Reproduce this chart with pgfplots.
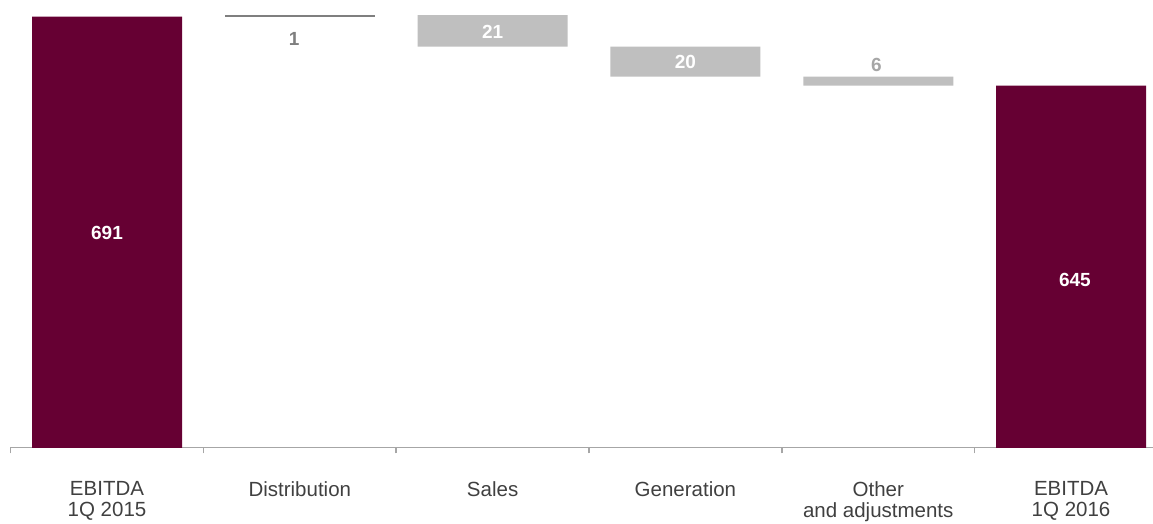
\documentclass[border=0pt]{standalone}
\usepackage{pgfplots}
\pgfplotsset{compat=1.18}
\usepackage{fontspec}
\setmainfont{Liberation Sans}
\definecolor{maroon}{HTML}{660033}
\definecolor{barGray}{HTML}{BFBFBF}
\definecolor{lineGray}{HTML}{7F7F7F}
\definecolor{axGray}{HTML}{A6A6A6}
\definecolor{lblGray}{HTML}{404040}
\definecolor{sixGray}{HTML}{A6A6A6}
\begin{document}
\begin{tikzpicture}
\begin{axis}[
  scale only axis, width=1142.4pt, height=447.5pt,
  xmin=-0.5, xmax=5.425, ymin=403.8, ymax=702.1,
  axis x line*=bottom, axis y line=none,
  x axis line style={draw=axGray, line width=1.5pt},
  ybar stacked, bar width=150pt,
  xtick={0,...,5},
  xticklabels={{EBITDA\\1Q 2015},Distribution,Sales,Generation,{Other\\and adjustments},{EBITDA\\1Q 2016}},
  xticklabel style={align=center, anchor=north, inner sep=0pt, yshift=-33.5pt,
    font=\fontsize{20.5}{21}\selectfont, text=lblGray},
  major tick length=0pt,
  extra x ticks={-0.5,0.5,1.5,2.5,3.5,4.5},
  extra x tick labels={},
  extra x tick style={major tick length=6pt, tick style={draw=axGray, line width=1.5pt}},
  xtick align=outside,
]
\addplot[draw=none, fill=none] coordinates {(0,0) (1,691) (2,671) (3,651) (4,645) (5,0)};
\addplot[draw=none, fill=maroon] coordinates {(0,691) (1,0) (2,0) (3,0) (4,0) (5,645)};
\addplot[draw=none, fill=barGray] coordinates {(0,0) (1,0) (2,21) (3,20) (4,6) (5,0)};
\addplot[draw=none, fill=lineGray] coordinates {(0,0) (1,1) (2,0) (3,0) (4,0) (5,0)};
\coordinate (L1) at (axis cs:0,546.8);
\coordinate (L2) at (axis cs:0.97,676.1);
\coordinate (L3) at (axis cs:2,681);
\coordinate (L4) at (axis cs:3,660.5);
\coordinate (L5) at (axis cs:3.99,658.8);
\coordinate (L6) at (axis cs:5.02,515.8);
\end{axis}
\begin{scope}[every node/.style={font=\fontsize{19}{19}\selectfont\bfseries}]
\node[text=white] at (L1) {691};
\node[text=lineGray] at (L2) {1};
\node[text=white] at (L3) {21};
\node[text=white] at (L4) {20};
\node[text=sixGray] at (L5) {6};
\node[text=white] at (L6) {645};
\end{scope}
\pgfresetboundingbox
\path (-10.6pt,-75.5pt) rectangle (1142.4pt,447.5pt);
\end{tikzpicture}
\end{document}
